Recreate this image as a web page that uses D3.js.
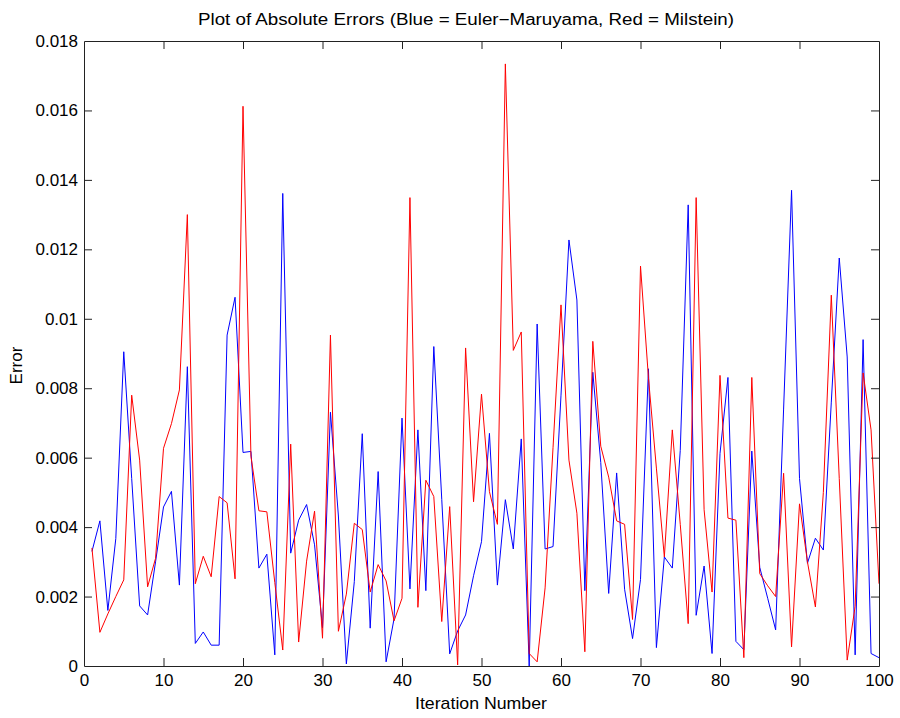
<!DOCTYPE html>
<html>
<head>
<meta charset="utf-8">
<script src="https://cdn.jsdelivr.net/npm/d3@7"></script>
<style>
  body { margin: 0; background: #fff; }
  text { font-family: "Liberation Sans", Arial, sans-serif; fill: #000; }
</style>
</head>
<body>
<svg id="chart" width="900" height="718"></svg>
<script>
// absolute errors, iterations 1..100
const eulerErr = [
  0.0033, 0.00418, 0.0016, 0.00367, 0.00905, 0.0054, 0.00173, 0.00147, 0.0030, 0.00458,
  0.00503, 0.00233, 0.00862, 0.00065, 0.00098, 0.0006, 0.0006, 0.00953, 0.01062, 0.00615,
  0.00618, 0.00282, 0.00322, 0.00032, 0.01361, 0.00325, 0.0042, 0.00465, 0.00349, 0.0011,
  0.00731, 0.00432, 0.00006, 0.00243, 0.00669, 0.00109, 0.0056, 0.00012, 0.00136, 0.00714,
  0.00222, 0.0068, 0.00217, 0.0092, 0.0048, 0.00035, 0.00101, 0.00147, 0.0026, 0.00358,
  0.0067, 0.00233, 0.00479, 0.00337, 0.00654, 0.0, 0.00985, 0.00337, 0.00344, 0.0078,
  0.01227, 0.01054, 0.00217, 0.00846, 0.00586, 0.00209, 0.00556, 0.00221, 0.00079, 0.00249,
  0.00856, 0.00053, 0.00314, 0.00282, 0.00621, 0.01328, 0.00146, 0.00288, 0.00036, 0.00612,
  0.00831, 0.00071, 0.00047, 0.00619, 0.00284, 0.00195, 0.00104, 0.0074, 0.0137, 0.0054,
  0.00296, 0.00368, 0.00334, 0.0076, 0.01175, 0.0089, 0.00032, 0.0094, 0.00036, 0.00024
];
const milsteinErr = [
  0.0034, 0.00097, 0.0015, 0.002, 0.00248, 0.0078, 0.00593, 0.00228, 0.0031, 0.00627,
  0.00698, 0.00795, 0.013, 0.00237, 0.00316, 0.00257, 0.00488, 0.0047, 0.00251, 0.01612,
  0.00604, 0.00447, 0.00444, 0.0024, 0.00046, 0.00639, 0.00069, 0.00302, 0.00446, 0.0008,
  0.00953, 0.001, 0.00207, 0.00411, 0.00393, 0.00213, 0.00292, 0.00245, 0.0013, 0.00195,
  0.01349, 0.00169, 0.00535, 0.00488, 0.00128, 0.00459, 0.00003, 0.00916, 0.00473, 0.00783,
  0.00502, 0.00408, 0.01734, 0.00909, 0.00962, 0.00036, 0.00012, 0.00225, 0.0063, 0.0104,
  0.00593, 0.0044, 0.00041, 0.00935, 0.00633, 0.00544, 0.00418, 0.00408, 0.00134, 0.01152,
  0.0083, 0.0057, 0.00314, 0.0068, 0.00408, 0.00122, 0.01349, 0.0045, 0.00213, 0.00837,
  0.00426, 0.0042, 0.00024, 0.00831, 0.00266, 0.00231, 0.002, 0.00555, 0.00055, 0.00467,
  0.003, 0.0017, 0.005, 0.01068, 0.0054, 0.00017, 0.00172, 0.00844, 0.0068, 0.00237
];
const iterations = d3.range(1, 101);
const xTicks = d3.range(0, 101, 10);
const yTicks = d3.range(0, 0.0181, 0.002);
const yTickLabels = ["0", "0.002", "0.004", "0.006", "0.008", "0.01", "0.012", "0.014", "0.016", "0.018"];

const svg = d3.select('#chart');
const plotLeft = 84, plotRight = 879, plotTop = 41, plotBottom = 666;

let x = d3.scaleLinear().domain([0, 100]).range([plotLeft, plotRight]);
let y = d3.scaleLinear().domain([0, 0.018]).range([plotBottom, plotTop]);

// data lines first, box and ticks drawn over them
let lineGen = (vals) => d3.line()
  .x((d, i) => x(iterations[i]))
  .y(d => y(d))(vals);

svg.append('path').attr('d', lineGen(eulerErr))
  .attr('fill', 'none').attr('stroke', '#0000ff').attr('stroke-width', 1);
svg.append('path').attr('d', lineGen(milsteinErr))
  .attr('fill', 'none').attr('stroke', '#ff0000').attr('stroke-width', 1);

///// Axes (matlab style: ticks inside, on all four sides) /////
const tickLen = 8;
let axisG = svg.append('g').classed('axes', true);

let xBottom = axisG.append('g').attr('transform', 'translate(0,' + plotBottom + ')')
  .call(d3.axisBottom(x).tickValues(xTicks).tickSizeInner(-tickLen).tickSizeOuter(0).tickPadding(8));
let xTop = axisG.append('g').attr('transform', 'translate(0,' + plotTop + ')')
  .call(d3.axisTop(x).tickValues(xTicks).tickSizeInner(-tickLen).tickSizeOuter(0).tickFormat(''));
let yLeft = axisG.append('g').attr('transform', 'translate(' + plotLeft + ',0)')
  .call(d3.axisLeft(y).tickValues(yTicks).tickSizeInner(-tickLen).tickSizeOuter(0).tickPadding(6)
    .tickFormat((d, i) => yTickLabels[i]));
let yRight = axisG.append('g').attr('transform', 'translate(' + plotRight + ',0)')
  .call(d3.axisRight(y).tickValues(yTicks).tickSizeInner(-tickLen).tickSizeOuter(0).tickFormat(''));

axisG.selectAll('.domain').attr('stroke', '#222');
axisG.selectAll('.tick line').attr('stroke', '#222');
axisG.selectAll('.tick text').style('font-size', '17px').style('font-family', '"Liberation Sans", Arial, sans-serif').attr('fill', '#000');

// hide the tick marks at the very ends (they sit on the box)
[xBottom, xTop].forEach(g => g.selectAll('.tick line').filter(d => d === 0 || d === 100).remove());
[yLeft, yRight].forEach(g => g.selectAll('.tick line').filter((d, i) => i === 0 || i === yTicks.length - 1).remove());

///// Labels /////
svg.append('text').text('Plot of Absolute Errors (Blue = Euler\u2212Maruyama, Red = Milstein)')
  .attr('x', 466).attr('y', 25)
  .attr('text-anchor', 'middle').style('font-size', '16px')
  .attr('textLength', 536).attr('lengthAdjust', 'spacingAndGlyphs');

svg.append('text').text('Iteration Number')
  .attr('x', 481).attr('y', 709)
  .attr('text-anchor', 'middle').style('font-size', '17px')
  .attr('textLength', 132).attr('lengthAdjust', 'spacingAndGlyphs');

svg.append('text').text('Error')
  .attr('transform', 'translate(22,' + ((plotTop + plotBottom) / 2 + 12) + ') rotate(-90)')
  .attr('text-anchor', 'middle').style('font-size', '17px');
</script>
</body>
</html>
